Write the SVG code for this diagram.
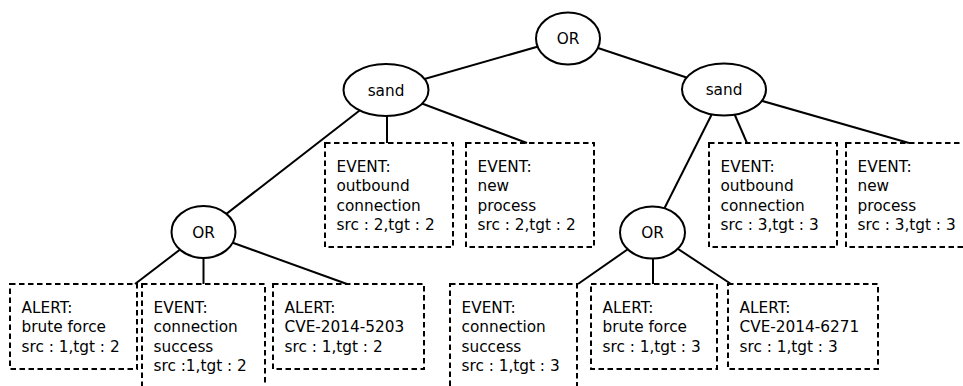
<svg xmlns="http://www.w3.org/2000/svg" width="963" height="386" viewBox="0 0 963 386">
<style>
  .edge { stroke: #000; stroke-width: 2; fill: none; }
  .op { fill: #fff; stroke: #000; stroke-width: 2; }
  .box { fill: none; stroke: #000; stroke-width: 2; stroke-dasharray: 5.5 3.5; }
  text { font-family: "DejaVu Sans", sans-serif; font-size: 15.3px; fill: #000; }
  .c { text-anchor: middle; }
</style>
<rect width="963" height="386" fill="#fff"/>
<g id="connectors">
  <line class="edge" x1="568" y1="38" x2="386" y2="90"/>
  <line class="edge" x1="568" y1="38" x2="724" y2="90"/>
  <line class="edge" x1="387" y1="90" x2="387" y2="143"/>
  <line class="edge" x1="386" y1="90" x2="527" y2="143"/>
  <line class="edge" x1="386" y1="90" x2="203" y2="232"/>
  <line class="edge" x1="203" y1="232" x2="135" y2="284"/>
  <line class="edge" x1="203.5" y1="232" x2="203.5" y2="284"/>
  <line class="edge" x1="203" y1="232" x2="347" y2="284"/>
  <line class="edge" x1="724" y1="90" x2="652.5" y2="232"/>
  <line class="edge" x1="724" y1="90" x2="747" y2="143"/>
  <line class="edge" x1="724" y1="90" x2="909" y2="143"/>
  <line class="edge" x1="652.5" y1="232" x2="578" y2="284"/>
  <line class="edge" x1="653" y1="232" x2="653" y2="284"/>
  <line class="edge" x1="652.5" y1="232" x2="731" y2="284"/>
</g>
<g id="or_top">
  <ellipse class="op" cx="568" cy="38.5" rx="32" ry="26"/>
  <text class="c" x="568" y="44">OR</text>
</g>
<g id="sand_left">
  <ellipse class="op" cx="386" cy="90" rx="42.5" ry="26"/>
  <text class="c" x="386" y="95.5">sand</text>
</g>
<g id="sand_right">
  <ellipse class="op" cx="724" cy="89.5" rx="42" ry="26"/>
  <text class="c" x="724" y="95">sand</text>
</g>
<g id="or_left">
  <ellipse class="op" cx="203.5" cy="232" rx="32" ry="26"/>
  <text class="c" x="203.5" y="237.5">OR</text>
</g>
<g id="or_right">
  <ellipse class="op" cx="652.5" cy="232.5" rx="32.5" ry="26"/>
  <text class="c" x="652.5" y="238">OR</text>
</g>
<g id="event_outbound_2">
  <rect class="box" x="325" y="143" width="128" height="104"/>
  <text x="336.5" y="172">EVENT:</text>
  <text x="336.5" y="191.3">outbound</text>
  <text x="336.5" y="210.6">connection</text>
  <text x="336.5" y="229.9">src : 2,tgt : 2</text>
</g>
<g id="event_new_2">
  <rect class="box" x="466" y="143" width="128" height="104"/>
  <text x="477.5" y="172">EVENT:</text>
  <text x="477.5" y="191.3">new</text>
  <text x="477.5" y="210.6">process</text>
  <text x="477.5" y="229.9">src : 2,tgt : 2</text>
</g>
<g id="event_outbound_3">
  <rect class="box" x="709" y="143" width="128" height="104"/>
  <text x="720.5" y="172">EVENT:</text>
  <text x="720.5" y="191.3">outbound</text>
  <text x="720.5" y="210.6">connection</text>
  <text x="720.5" y="229.9">src : 3,tgt : 3</text>
</g>
<g id="event_new_3">
  <rect class="box" x="846" y="143" width="128" height="104"/>
  <text x="857.5" y="172">EVENT:</text>
  <text x="857.5" y="191.3">new</text>
  <text x="857.5" y="210.6">process</text>
  <text x="857.5" y="229.9">src : 3,tgt : 3</text>
</g>
<g id="alert_bf_2">
  <rect class="box" x="10" y="284" width="127" height="85"/>
  <text x="21.5" y="313">ALERT:</text>
  <text x="21.5" y="332.3">brute force</text>
  <text x="21.5" y="351.6">src : 1,tgt : 2</text>
</g>
<g id="event_cs_2">
  <rect class="box" x="142" y="284" width="123" height="104"/>
  <text x="153.5" y="313">EVENT:</text>
  <text x="153.5" y="332.3">connection</text>
  <text x="153.5" y="351.6">success</text>
  <text x="153.5" y="370.9">src :1,tgt : 2</text>
</g>
<g id="alert_cve_2">
  <rect class="box" x="273" y="284" width="151" height="85"/>
  <text x="284.5" y="313">ALERT:</text>
  <text x="284.5" y="332.3">CVE-2014-5203</text>
  <text x="284.5" y="351.6">src : 1,tgt : 2</text>
</g>
<g id="event_cs_3">
  <rect class="box" x="450" y="284" width="127" height="104"/>
  <text x="461.5" y="313">EVENT:</text>
  <text x="461.5" y="332.3">connection</text>
  <text x="461.5" y="351.6">success</text>
  <text x="461.5" y="370.9">src : 1,tgt : 3</text>
</g>
<g id="alert_bf_3">
  <rect class="box" x="591" y="284" width="126" height="85"/>
  <text x="602.5" y="313">ALERT:</text>
  <text x="602.5" y="332.3">brute force</text>
  <text x="602.5" y="351.6">src : 1,tgt : 3</text>
</g>
<g id="alert_cve_3">
  <rect class="box" x="728" y="284" width="150" height="85"/>
  <text x="739.5" y="313">ALERT:</text>
  <text x="739.5" y="332.3">CVE-2014-6271</text>
  <text x="739.5" y="351.6">src : 1,tgt : 3</text>
</g>
</svg>
